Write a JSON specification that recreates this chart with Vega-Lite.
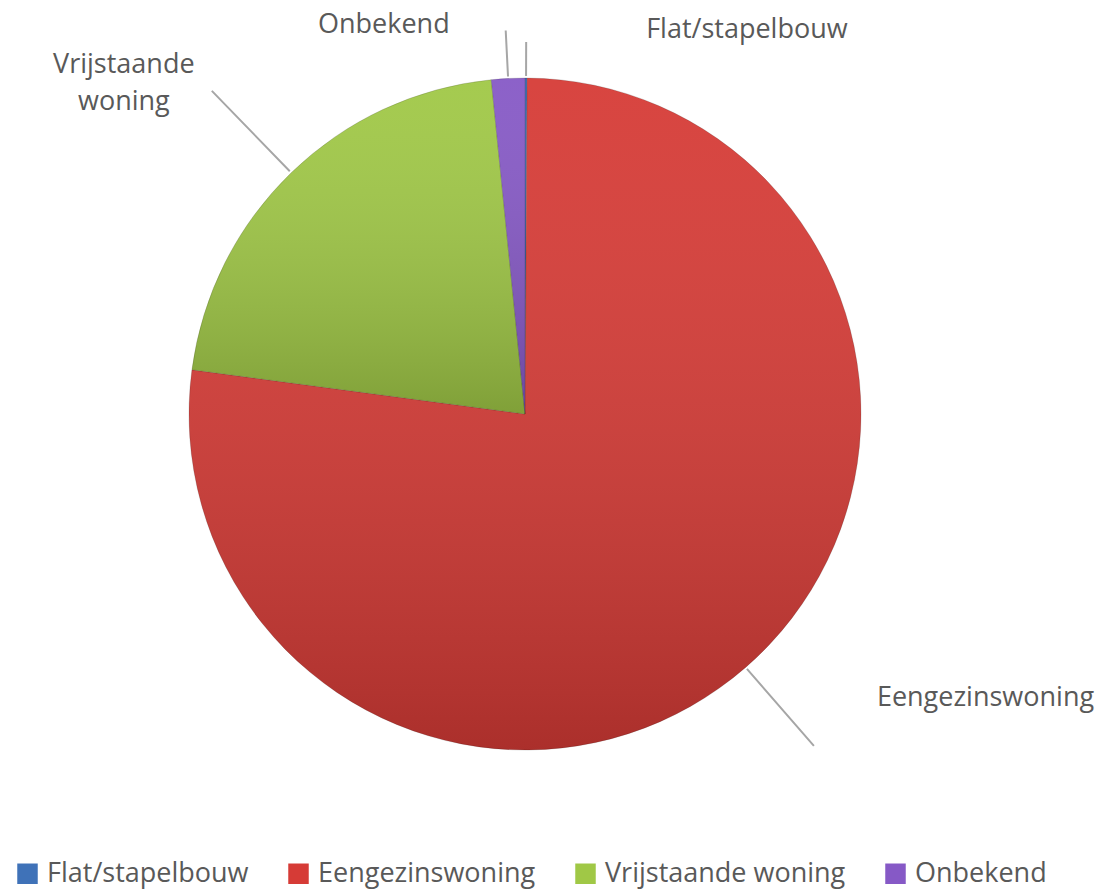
{
  "$schema": "https://vega.github.io/schema/vega-lite/v6.json",
  "width": 1050,
  "height": 828,
  "autosize": {"type": "none"},
  "padding": {"left": 0, "top": 0, "right": 53, "bottom": 63},
  "background": "#ffffff",
  "data": {
    "values": [
      {"cat": "Flat/stapelbouw", "value": 0.1, "idx": 1},
      {"cat": "Eengezinswoning", "value": 77.0, "idx": 2},
      {"cat": "Vrijstaande woning", "value": 21.3, "idx": 3},
      {"cat": "Onbekend", "value": 1.6, "idx": 4}
    ]
  },
  "transform": [
    {"stack": "value", "groupby": [], "sort": [{"field": "idx", "order": "ascending"}], "as": ["v0", "v1"]},
    {"fold": ["v0", "v1"], "as": ["k", "v"]},
    {"aggregate": [{"op": "mean", "field": "v", "as": "mid"}], "groupby": ["cat", "value", "idx"]}
  ],
  "layer": [
    {
      "mark": {"type": "arc", "outerRadius": 336, "stroke": "rgba(0,0,0,0.15)", "strokeWidth": 1},
      "encoding": {
        "theta": {"field": "value", "type": "quantitative", "stack": true},
        "order": {"field": "idx", "type": "quantitative"},
        "color": {
          "field": "cat",
          "type": "nominal",
          "scale": {
            "domain": ["Flat/stapelbouw", "Eengezinswoning", "Vrijstaande woning", "Onbekend"],
            "range": ["#3F72B8", "#D63B36", "#A0C846", "#8659C6"]
          },
          "legend": {
            "title": null,
            "orient": "none",
            "legendX": 14,
            "legendY": 860,
            "direction": "horizontal",
            "symbolType": "square",
            "symbolSize": 420,
            "symbolStrokeWidth": 0,
            "labelFont": "Open Sans",
            "labelFontSize": 27,
            "labelColor": "#595959",
            "labelLimit": 400,
            "labelOffset": 6,
            "columnPadding": 36,
            "padding": 0
          }
        }
      }
    },
    {
      "mark": {
        "type": "arc",
        "outerRadius": 336,
        "fill": {
          "gradient": "linear",
          "x1": 0, "y1": 0, "x2": 0, "y2": 1,
          "stops": [
            {"offset": 0, "color": "rgba(255,255,255,0.05)"},
            {"offset": 1, "color": "rgba(0,0,0,0.2)"}
          ]
        }
      },
      "encoding": {
        "theta": {"field": "value", "type": "quantitative", "stack": true},
        "order": {"field": "idx", "type": "quantitative"}
      }
    },
    {
      "transform": [{"filter": "datum.cat === 'Eengezinswoning'"}],
      "mark": {"type": "arc", "innerRadius": 338, "outerRadius": 440, "filled": false, "color": "#A6A6A6", "strokeWidth": 2},
      "encoding": {
        "theta": {"field": "mid", "type": "quantitative", "stack": null},
        "theta2": {"field": "mid"}
      }
    },
    {
      "transform": [{"filter": "datum.cat === 'Vrijstaande woning'"}],
      "mark": {"type": "arc", "innerRadius": 338, "outerRadius": 450, "filled": false, "color": "#A6A6A6", "strokeWidth": 2},
      "encoding": {
        "theta": {"field": "mid", "type": "quantitative", "stack": null},
        "theta2": {"field": "mid"}
      }
    },
    {
      "transform": [{"filter": "datum.cat === 'Onbekend'"}],
      "mark": {"type": "arc", "innerRadius": 338, "outerRadius": 384, "filled": false, "color": "#A6A6A6", "strokeWidth": 2},
      "encoding": {
        "theta": {"field": "mid", "type": "quantitative", "stack": null},
        "theta2": {"field": "mid"}
      }
    },
    {
      "transform": [{"filter": "datum.cat === 'Flat/stapelbouw'"}],
      "mark": {"type": "arc", "innerRadius": 338, "outerRadius": 372, "filled": false, "color": "#A6A6A6", "strokeWidth": 2},
      "encoding": {
        "theta": {"field": "mid", "type": "quantitative", "stack": null},
        "theta2": {"field": "mid"}
      }
    },
    {
      "transform": [{"filter": "datum.cat === 'Eengezinswoning'"}],
      "mark": {"type": "text", "radius": 440, "dx": 63, "dy": -40, "align": "left", "baseline": "alphabetic", "font": "Open Sans", "fontSize": 27, "color": "#595959"},
      "encoding": {
        "theta": {"field": "mid", "type": "quantitative", "stack": null},
        "text": {"field": "cat"}
      }
    },
    {
      "transform": [{"filter": "datum.cat === 'Vrijstaande woning'"}],
      "mark": {"type": "text", "radius": 450, "dx": -88, "dy": -39, "align": "center", "baseline": "top", "lineBreak": " ", "lineHeight": 37, "font": "Open Sans", "fontSize": 27, "color": "#595959"},
      "encoding": {
        "theta": {"field": "mid", "type": "quantitative", "stack": null},
        "text": {"field": "cat"}
      }
    },
    {
      "transform": [{"filter": "datum.cat === 'Onbekend'"}],
      "mark": {"type": "text", "radius": 384, "dx": -56, "dy": 3, "align": "right", "baseline": "alphabetic", "font": "Open Sans", "fontSize": 27, "color": "#595959"},
      "encoding": {
        "theta": {"field": "mid", "type": "quantitative", "stack": null},
        "text": {"field": "cat"}
      }
    },
    {
      "transform": [{"filter": "datum.cat === 'Flat/stapelbouw'"}],
      "mark": {"type": "text", "radius": 372, "dx": 120, "dy": -4, "align": "left", "baseline": "alphabetic", "font": "Open Sans", "fontSize": 27, "color": "#595959"},
      "encoding": {
        "theta": {"field": "mid", "type": "quantitative", "stack": null},
        "text": {"field": "cat"}
      }
    }
  ],
  "config": {
    "view": {"stroke": null}
  }
}
